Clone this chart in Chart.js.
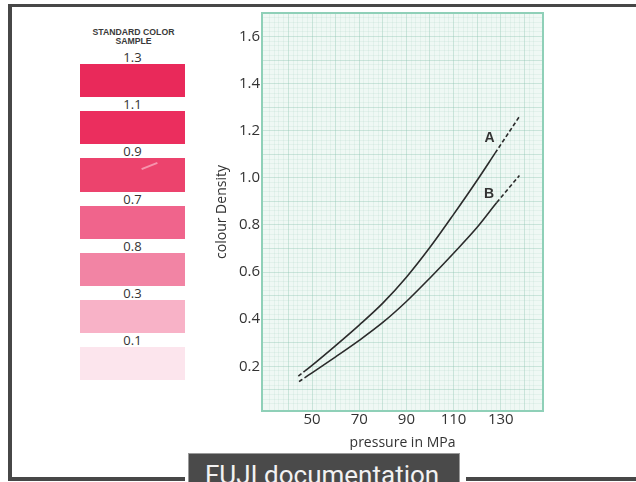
<!DOCTYPE html>
<html>
<head>
<meta charset="utf-8">
<title>colour Density vs pressure</title>
<script src="https://cdn.jsdelivr.net/npm/chart.js@4.4.1/dist/chart.umd.min.js"></script>
<style>
  body { margin: 0; width: 636px; height: 482px; overflow: hidden; position: relative; background: #fff; font-family: "Open Sans", sans-serif; }
  #frame { position: absolute; left: 8px; top: 4px; width: 700px; height: 477px; box-sizing: border-box;
           border-top: 3px solid #474747; border-left: 4px solid #474747; border-bottom: 4px solid #474747; }
  #sampleTitle { position: absolute; left: 80px; top: 27.5px; width: 107px; text-align: center;
                 font: bold 8.7px "Liberation Sans", Arial, sans-serif; line-height: 9px; color: #3a3a3a; }
  #samples { position: absolute; left: 80px; top: 50px; width: 105px; }
  .sample-label { height: 14px; line-height: 14px; text-align: center; font-size: 13px; color: #333; }
  .sample-swatch { height: 33.2px; }
  #scratch { position: absolute; left: 141px; top: 165px; width: 17px; height: 2px; background: rgba(255, 215, 225, 0.55); transform: rotate(-22deg); }
  #chartBox { position: absolute; left: 200px; top: 0; width: 360px; height: 482px; }
  #captionBack { position: absolute; left: 185px; top: 450px; width: 281px; height: 40px; background: #fff; }
  #caption { position: absolute; left: 188px; top: 453px; width: 272px; height: 40px; background: #4a4a4a; box-sizing: border-box; border: 1px solid #9a9a9a; }
  #caption span { position: absolute; left: 16px; top: 7.5px; font: 26px Roboto, sans-serif; line-height: 26px; color: #f2f2f2; white-space: nowrap; }
</style>
</head>
<body>
<div id="frame"></div>
<div id="sampleTitle">STANDARD COLOR<br>SAMPLE</div>
<div id="samples"></div>
<div id="scratch"></div>
<div id="chartBox"><canvas id="densityChart"></canvas></div>
<div id="captionBack"></div>
<div id="caption"><span>FUJI documentation</span></div>

<script>
// chart data
const pressureA = [44.2, 47, 50, 60, 70, 80, 90, 100, 110, 120, 127.6, 138.2];
const densityA = [0.158, 0.18, 0.204, 0.288, 0.375, 0.468, 0.578, 0.705, 0.845, 0.99, 1.105, 1.265];
const pressureB = [44.5, 47, 50, 60, 70, 80, 90, 100, 110, 120, 128.3, 137.9];
const densityB = [0.135, 0.152, 0.172, 0.24, 0.31, 0.386, 0.475, 0.575, 0.68, 0.79, 0.895, 1.01];
const curveNames = ['A', 'B'];
const labelPressure = [125.2, 125.0];
const labelDensity = [1.169, 0.931];
const xTicks = [50, 70, 90, 110, 130];
const yTicks = [0.2, 0.4, 0.6, 0.8, 1.0, 1.2, 1.4, 1.6];

// colour sample strip
const sampleLabels = ['1.3', '1.1', '0.9', '0.7', '0.8', '0.3', '0.1'];
const sampleColors = ['#e9295a', '#eb2e5e', '#ec436d', '#f0648c', '#f284a4', '#f8b2c7', '#fce5ed'];

const X_MIN = 28.8, X_MAX = 147.9, Y_MIN = 0.01, Y_MAX = 1.7;
const FRAME_GREEN = '#8fd0b8';
const INK = '#2b2b2b';

function buildSamples(){
    'use strict';
    const box = document.getElementById('samples');
    sampleLabels.forEach(function(lbl, i){
        const label = document.createElement('div');
        label.className = 'sample-label';
        label.textContent = lbl;
        const swatch = document.createElement('div');
        swatch.className = 'sample-swatch';
        swatch.style.background = sampleColors[i];
        box.appendChild(label);
        box.appendChild(swatch);
    });
}

// dashed first and last piece of each curve
function dashEnds(n){
    return function(ctx){
        if(ctx.p0DataIndex === 0 || ctx.p1DataIndex === n - 1){
            return [4, 2.5];
        }
        return undefined;
    };
}

function toPoints(xs, ys){
    return xs.map(function(x, i){ return {x: x, y: ys[i]}; });
}

// graph paper: darker line every 5 small squares
function paperColor(major){
    return function(ctx){
        if(ctx.index === 0 || ctx.index === ctx.scale.ticks.length - 1){
            return 'rgba(0,0,0,0)';
        }
        return major(ctx.tick.value) ? 'rgba(140,195,175,0.38)' : 'rgba(165,212,194,0.18)';
    };
}

const paperBackground = {
    id: 'paperBackground',
    beforeDraw(chart){
        const {ctx, chartArea} = chart;
        ctx.save();
        ctx.fillStyle = '#eff8f4';
        ctx.fillRect(chartArea.left, chartArea.top, chartArea.right - chartArea.left, chartArea.bottom - chartArea.top);
        ctx.restore();
    }
};

const curveLabels = {
    id: 'curveLabels',
    afterDatasetsDraw(chart){
        const {ctx, scales} = chart;
        ctx.save();
        ctx.font = 'bold 14px "Liberation Sans", Arial, sans-serif';
        ctx.fillStyle = '#333';
        ctx.textAlign = 'center';
        ctx.textBaseline = 'middle';
        curveNames.forEach(function(name, i){
            ctx.fillText(name, scales.x.getPixelForValue(labelPressure[i]), scales.y.getPixelForValue(labelDensity[i]));
        });
        ctx.restore();
    }
};

window.onload = function(){
    buildSamples();

    const tickFont = {family: '"Open Sans", sans-serif', size: 15};
    const titleFont = {family: '"Open Sans", sans-serif', size: 14, lineHeight: 1.2};

    const config = {
        type: 'line',
        data: {
            datasets: [{
                label: curveNames[0],
                data: toPoints(pressureA, densityA),
                borderColor: INK,
                borderWidth: 1.6,
                pointRadius: 0,
                cubicInterpolationMode: 'monotone',
                segment: {borderDash: dashEnds(pressureA.length)}
            },
            {
                label: curveNames[1],
                data: toPoints(pressureB, densityB),
                borderColor: INK,
                borderWidth: 1.6,
                pointRadius: 0,
                cubicInterpolationMode: 'monotone',
                segment: {borderDash: dashEnds(pressureB.length)}
            }]
        },
        options: {
            responsive: true,
            maintainAspectRatio: false,
            animation: false,
            layout: {padding: {left: 0, top: 13, right: 17, bottom: 31}},
            plugins: {
                legend: {display: false},
                tooltip: {enabled: false}
            },
            scales: {
                x: {
                    type: 'linear',
                    position: 'bottom',
                    min: X_MIN,
                    max: X_MAX,
                    z: 1,
                    afterBuildTicks: function(scale){ scale.ticks = xTicks.map(function(v){ return {value: v}; }); },
                    afterFit: function(scale){ scale.height = 40; },
                    ticks: {font: tickFont, color: '#333', padding: 0, maxRotation: 0, autoSkip: false},
                    grid: {display: false, drawTicks: false},
                    border: {color: FRAME_GREEN, width: 2},
                    title: {display: true, text: 'pressure in MPa', font: titleFont, color: '#333', padding: {top: 0, bottom: 0}}
                },
                y: {
                    type: 'linear',
                    position: 'left',
                    min: Y_MIN,
                    max: Y_MAX,
                    z: 1,
                    afterBuildTicks: function(scale){ scale.ticks = yTicks.map(function(v){ return {value: v}; }); },
                    afterFit: function(scale){ scale.width = 62; },
                    ticks: {font: tickFont, color: '#333', padding: 2, autoSkip: false,
                            callback: function(v){ return v.toFixed(1); }},
                    grid: {display: false, drawTicks: false},
                    border: {color: FRAME_GREEN, width: 2},
                    title: {display: true, text: 'colour Density', font: titleFont, color: '#333', padding: {top: 13.6, bottom: 0}}
                },
                gridX: {
                    type: 'linear',
                    position: 'top',
                    min: X_MIN,
                    max: X_MAX,
                    afterFit: function(scale){ scale.height = 0; },
                    ticks: {display: false, stepSize: 2},
                    grid: {drawTicks: false, lineWidth: 1, color: paperColor(function(v){ return Math.round(v) % 10 === 0; })},
                    border: {color: FRAME_GREEN, width: 2}
                },
                gridY: {
                    type: 'linear',
                    position: 'right',
                    min: Y_MIN,
                    max: Y_MAX,
                    afterFit: function(scale){ scale.width = 0; },
                    ticks: {display: false, stepSize: 0.02},
                    grid: {drawTicks: false, lineWidth: 1, color: paperColor(function(v){ return Math.round(v * 50) % 5 === 0; })},
                    border: {color: FRAME_GREEN, width: 2}
                }
            }
        },
        plugins: [paperBackground, curveLabels]
    };

    const densityChart = new Chart(document.getElementById('densityChart'), config);
};
</script>
</body>
</html>
